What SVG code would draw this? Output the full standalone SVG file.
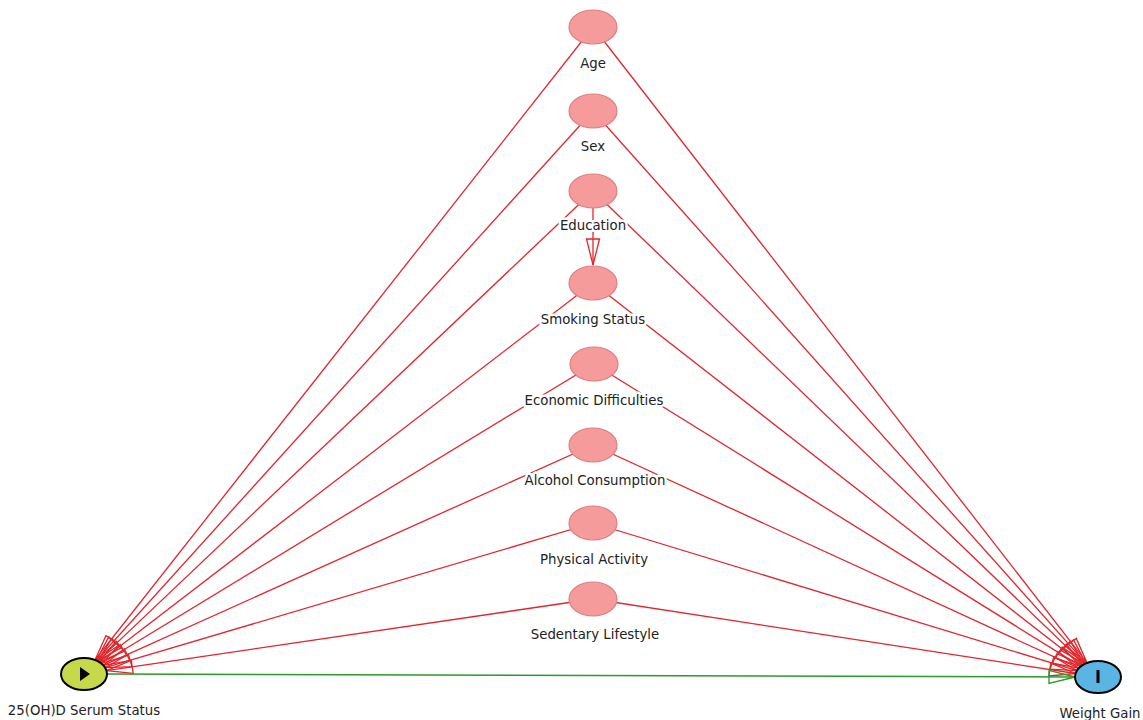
<svg xmlns="http://www.w3.org/2000/svg" width="1143" height="720" viewBox="0 0 1143 720">
<style>
.e{stroke:#e0262c;stroke-width:1.3;fill:none;marker-end:url(#ar)}
.g{stroke:#2a9a2a;stroke-width:1.5;fill:none;marker-end:url(#ag)}
.n{fill:#f59b9b;stroke:#e07f82;stroke-width:1.2}
.t{font-family:"DejaVu Sans",sans-serif;font-size:13.3px;fill:#222;text-anchor:middle;stroke:#fff;stroke-width:5;paint-order:stroke;stroke-linejoin:round}
</style>
<defs>
<marker id="ar" markerUnits="userSpaceOnUse" markerWidth="30" markerHeight="18" viewBox="0 0 30 18" refX="28" refY="9" orient="auto">
<path d="M2,2.5 L28,9 L2,15.5 Z" fill="none" stroke="#e0262c" stroke-width="1.3"/>
</marker>
<marker id="ag" markerUnits="userSpaceOnUse" markerWidth="30" markerHeight="18" viewBox="0 0 30 18" refX="28" refY="9" orient="auto">
<path d="M2,2.5 L28,9 L2,15.5 Z" fill="none" stroke="#2a9a2a" stroke-width="1.3"/>
</marker>
</defs>
<rect width="1143" height="720" fill="#fff"/>
<g id="connectors">
<line class="e" x1="593" y1="27" x2="95.0" y2="660.0"/>
<line class="e" x1="593" y1="111" x2="96.2" y2="660.5"/>
<line class="e" x1="593" y1="191" x2="97.6" y2="661.1"/>
<line class="e" x1="593" y1="283" x2="99.4" y2="662.1"/>
<line class="e" x1="594" y1="364" x2="101.3" y2="663.5"/>
<line class="e" x1="593" y1="445" x2="103.3" y2="665.3"/>
<line class="e" x1="593" y1="523" x2="105.2" y2="667.7"/>
<line class="e" x1="593" y1="599" x2="106.5" y2="670.7"/>
<line class="e" x1="593" y1="27" x2="1087.1" y2="662.9"/>
<line class="e" x1="593" y1="111" x2="1085.9" y2="663.4"/>
<line class="e" x1="593" y1="191" x2="1084.5" y2="664.0"/>
<line class="e" x1="593" y1="283" x2="1082.7" y2="665.1"/>
<line class="e" x1="594" y1="364" x2="1080.8" y2="666.4"/>
<line class="e" x1="593" y1="445" x2="1078.8" y2="668.2"/>
<line class="e" x1="593" y1="523" x2="1076.9" y2="670.6"/>
<line class="e" x1="593" y1="599" x2="1075.5" y2="673.5"/>
<line class="e" x1="593" y1="208" x2="593" y2="265"/>
<line class="g" x1="107" y1="674" x2="1075" y2="677"/>
</g>
<g id="age"><ellipse class="n" cx="593" cy="27" rx="24" ry="17"/><text class="t" x="593" y="68">Age</text></g>
<g id="sex"><ellipse class="n" cx="593" cy="111" rx="24" ry="17"/><text class="t" x="593" y="151">Sex</text></g>
<g id="education"><ellipse class="n" cx="593" cy="191" rx="24" ry="17"/><text class="t" x="593" y="230">Education</text></g>
<g id="smoking"><ellipse class="n" cx="593" cy="283" rx="24" ry="17"/><text class="t" x="593" y="324">Smoking Status</text></g>
<g id="economic"><ellipse class="n" cx="594" cy="364" rx="24" ry="17"/><text class="t" x="594" y="405">Economic Difficulties</text></g>
<g id="alcohol"><ellipse class="n" cx="593" cy="445" rx="24" ry="17"/><text class="t" x="595" y="485">Alcohol Consumption</text></g>
<g id="physical"><ellipse class="n" cx="593" cy="523" rx="24" ry="17"/><text class="t" x="594" y="564">Physical Activity</text></g>
<g id="sedentary"><ellipse class="n" cx="593" cy="599" rx="24" ry="17"/><text class="t" x="595" y="639">Sedentary Lifestyle</text></g>
<g id="exposure"><ellipse cx="84" cy="674" rx="23" ry="16" fill="#c5d94a" stroke="#000" stroke-width="2"/><polygon points="80,667 80,681 90,674" fill="#000"/><text class="t" x="84" y="715">25(OH)D Serum Status</text></g>
<g id="outcome"><ellipse cx="1098" cy="677" rx="23" ry="16" fill="#5ab4e4" stroke="#000" stroke-width="2"/><rect x="1096.5" y="670" width="3" height="13" fill="#000"/><text class="t" x="1100" y="718">Weight Gain</text></g>
</svg>
